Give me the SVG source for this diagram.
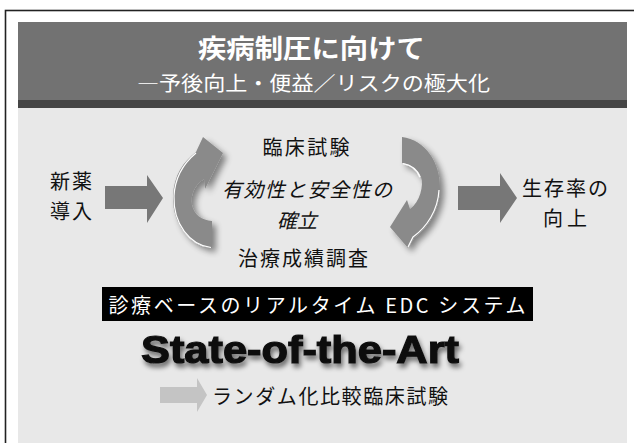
<svg xmlns="http://www.w3.org/2000/svg" width="634" height="443" viewBox="0 0 634 443">
<style>
.jp{font-family:"Noto Sans CJK JP","Noto Sans",sans-serif;fill:#111}
.w{fill:#fff}
.c{text-anchor:middle}
.curve{fill:#8a8a8a}
.hl{fill:none;stroke:#fff;stroke-width:1.2}
.arr{fill:#777}
</style>
<defs>
<filter id="sh" x="-30%" y="-30%" width="160%" height="160%">
<feGaussianBlur in="SourceAlpha" stdDeviation="3"/>
<feOffset dx="4" dy="4" result="b"/>
<feComponentTransfer><feFuncA type="linear" slope="0.45"/></feComponentTransfer>
<feMerge><feMergeNode/><feMergeNode in="SourceGraphic"/></feMerge>
</filter>
<filter id="tsh" x="-10%" y="-30%" width="120%" height="180%">
<feGaussianBlur in="SourceAlpha" stdDeviation="2.5"/>
<feOffset dx="2" dy="4"/>
<feComponentTransfer><feFuncA type="linear" slope="0.55"/></feComponentTransfer>
<feMerge><feMergeNode/><feMergeNode in="SourceGraphic"/></feMerge>
</filter>
</defs>
<rect x="0" y="0" width="634" height="443" fill="#fff"/>
<rect x="5.5" y="10.5" width="640" height="450" fill="none" stroke="#222" stroke-width="1.6"/>
<g id="header">
<rect x="18" y="22" width="609" height="79" fill="#727272"/>
<rect x="18" y="100" width="609" height="8" fill="#454545"/>
<text class="jp w c" x="311.5" y="58" font-size="26" font-weight="bold" textLength="227" lengthAdjust="spacingAndGlyphs">疾病制圧に向けて</text>
<text class="jp w c" x="313.5" y="91" font-size="20" textLength="353" lengthAdjust="spacingAndGlyphs">―予後向上・便益／リスクの極大化</text>
</g>
<rect x="18" y="108" width="609" height="335" fill="#e8e8e8"/>
<g id="new-drug">
<text class="jp" x="50" y="189" font-size="20" textLength="42">新薬</text>
<text class="jp" x="50" y="219" font-size="20" textLength="42">導入</text>
</g>
<g id="cycle-left" filter="url(#sh)">
<path class="curve" d="M212,221 L212,248 C190,246 172,224 173,196 C174,175 183,162 196,152 L203,137 L223,153 L205,189 L204,179 C194,185 190,196 192,205 C194,215 202,220 212,221 Z"/>
<path class="hl" d="M211,247.5 C190,245 173,224 174,196 C175,176 184,163 196,153"/>
</g>
<g id="cycle-right" filter="url(#sh)">
<path class="curve" d="M402,137 C425,140 441,162 440,190 C439,210 428,228 414,238 L408,248 L390,227 L407,200 L410,209 C420,202 424,185 421,177 C418,168 410,164 402,163 Z"/>
<path class="hl" d="M439,190 C438,210 427,227 413,237 L408,247"/>
<path class="hl" d="M403,163.5 C411,165 417,169 420,177"/>
</g>
<g id="cycle-labels">
<text class="jp c" x="306" y="155" font-size="20" textLength="87">臨床試験</text>
<text class="jp c" x="307" y="197" font-size="20" font-style="italic" textLength="170">有効性と安全性の</text>
<text class="jp c" x="297" y="228" font-size="20" font-style="italic" textLength="40">確立</text>
<text class="jp c" x="303" y="266" font-size="20" textLength="130">治療成績調査</text>
</g>
<g id="survival">
<text class="jp c" x="565" y="196" font-size="20" textLength="86">生存率の</text>
<text class="jp c" x="565" y="226" font-size="20" textLength="44">向上</text>
</g>
<g id="edc">
<rect x="102" y="287" width="431" height="34" fill="#000"/>
<text class="jp w c" x="317" y="313" font-size="20" textLength="417">診療ベースのリアルタイム EDC システム</text>
</g>
<g id="sota" filter="url(#tsh)">
<text x="300" y="363" font-family="'Liberation Sans',Arial,sans-serif" font-weight="bold" font-size="39" text-anchor="middle" fill="#111" stroke="#111" stroke-width="1.2" textLength="318" lengthAdjust="spacingAndGlyphs">State-of-the-Art</text>
</g>
<g id="rct">
<path d="M160,387 H197 V378 L207,395 L197,412 V403 H160 Z" fill="#c4c4c4"/>
<text class="jp" x="212" y="404" font-size="20" textLength="236">ランダム化比較臨床試験</text>
</g>
<g id="connectors">
<path class="arr" d="M105,186 H147 V175 L163,198 L147,223 V209 H105 Z"/>
<path class="arr" d="M458,186 H500 V173 L517,198 L500,223 V210 H458 Z"/>
</g>
</svg>
